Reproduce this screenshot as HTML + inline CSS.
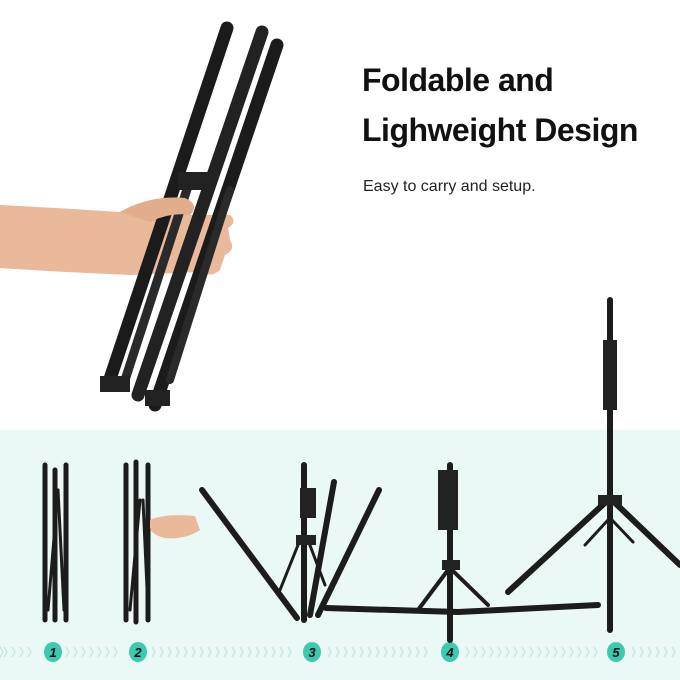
<!DOCTYPE html>
<html><head><style>
html,body{margin:0;padding:0;background:#fff;}
#c{position:relative;width:680px;height:680px;overflow:hidden;font-family:"Liberation Sans",sans-serif;}
.t{position:absolute;left:362px;color:#111;font-weight:bold;font-size:32px;letter-spacing:-0.5px;}
</style></head><body><div id="c">
<svg width="680" height="680" style="position:absolute;left:0;top:0">
<rect x="0" y="430" width="680" height="250" fill="#eaf8f6"/>
<!-- hand top -->
<path d="M0 205 Q60 208 120 212 Q150 195 185 198 Q200 205 190 215 L230 215 Q238 222 228 228 L230 240 Q236 250 225 255 L220 270 Q212 278 200 272 L130 275 Q60 272 0 268 Z" fill="#e9b99a"/>
<!-- tubes top -->
<g stroke-linecap="round">
<line x1="227" y1="28" x2="108" y2="385" stroke="#1b1b1b" stroke-width="13"/>
<line x1="262" y1="32" x2="138" y2="395" stroke="#222" stroke-width="13"/>
<line x1="277" y1="45" x2="155" y2="405" stroke="#1b1b1b" stroke-width="13"/>
<line x1="190" y1="180" x2="125" y2="380" stroke="#2a2a2a" stroke-width="9"/>
<line x1="230" y1="190" x2="170" y2="380" stroke="#2a2a2a" stroke-width="8"/>
</g>
<rect x="178" y="172" width="30" height="18" fill="#222"/>
<rect x="100" y="376" width="30" height="16" fill="#222"/>
<rect x="145" y="390" width="25" height="16" fill="#222"/>
<path d="M120 212 Q150 195 185 198 Q200 205 190 215 Q170 212 150 222 Z" fill="#e2ad8c"/>
<!-- chevrons -->
<g fill="none" stroke="#c7e6e1" stroke-width="1.2">
<path id="ch" d="M0 647 l3 5 l-3 5"/>
</g>
<g fill="none" stroke="#bfe3dd" stroke-width="1.2">
<path d="M4 647l3 5l-3 5M12 647l3 5l-3 5M20 647l3 5l-3 5M28 647l3 5l-3 5M66 647l3 5l-3 5M74 647l3 5l-3 5M82 647l3 5l-3 5M90 647l3 5l-3 5M98 647l3 5l-3 5M106 647l3 5l-3 5M114 647l3 5l-3 5M152 647l3 5l-3 5M160 647l3 5l-3 5M168 647l3 5l-3 5M176 647l3 5l-3 5M184 647l3 5l-3 5M192 647l3 5l-3 5M200 647l3 5l-3 5M208 647l3 5l-3 5M216 647l3 5l-3 5M224 647l3 5l-3 5M232 647l3 5l-3 5M240 647l3 5l-3 5M248 647l3 5l-3 5M256 647l3 5l-3 5M264 647l3 5l-3 5M272 647l3 5l-3 5M280 647l3 5l-3 5M288 647l3 5l-3 5M328 647l3 5l-3 5M336 647l3 5l-3 5M344 647l3 5l-3 5M352 647l3 5l-3 5M360 647l3 5l-3 5M368 647l3 5l-3 5M376 647l3 5l-3 5M384 647l3 5l-3 5M392 647l3 5l-3 5M400 647l3 5l-3 5M408 647l3 5l-3 5M416 647l3 5l-3 5M424 647l3 5l-3 5M466 647l3 5l-3 5M474 647l3 5l-3 5M482 647l3 5l-3 5M490 647l3 5l-3 5M498 647l3 5l-3 5M506 647l3 5l-3 5M514 647l3 5l-3 5M522 647l3 5l-3 5M530 647l3 5l-3 5M538 647l3 5l-3 5M546 647l3 5l-3 5M554 647l3 5l-3 5M562 647l3 5l-3 5M570 647l3 5l-3 5M578 647l3 5l-3 5M586 647l3 5l-3 5M594 647l3 5l-3 5M632 647l3 5l-3 5M640 647l3 5l-3 5M648 647l3 5l-3 5M656 647l3 5l-3 5M664 647l3 5l-3 5M672 647l3 5l-3 5"/>
</g>
<!-- circles -->
<g fill="#3cc9ae">
<ellipse cx="53" cy="652" rx="9" ry="10"/>
<ellipse cx="138" cy="652" rx="9" ry="10"/>
<ellipse cx="312" cy="652" rx="9" ry="10"/>
<ellipse cx="450" cy="652" rx="9" ry="10"/>
<ellipse cx="616" cy="652" rx="9" ry="10"/>
</g>
<g font-family="Liberation Sans" font-weight="bold" font-style="italic" font-size="13" fill="#111" text-anchor="middle">
<text x="53" y="657">1</text><text x="138" y="657">2</text><text x="312" y="657">3</text><text x="450" y="657">4</text><text x="616" y="657">5</text>
</g>
<!-- stand 1 -->
<g stroke="#1c1c1c" stroke-linecap="round">
<line x1="45" y1="465" x2="45" y2="620" stroke-width="5"/>
<line x1="66" y1="465" x2="66" y2="620" stroke-width="5"/>
<line x1="55" y1="470" x2="55" y2="620" stroke-width="5"/>
<line x1="58" y1="490" x2="48" y2="610" stroke-width="3"/>
<line x1="58" y1="490" x2="64" y2="610" stroke-width="3"/>
<!-- stand 2 -->
<line x1="126" y1="465" x2="126" y2="620" stroke-width="5"/>
<line x1="136" y1="462" x2="136" y2="622" stroke-width="5"/>
<line x1="148" y1="465" x2="148" y2="620" stroke-width="5"/>
<line x1="140" y1="500" x2="130" y2="610" stroke-width="3"/>
<line x1="143" y1="500" x2="148" y2="610" stroke-width="3"/>
</g>
<path d="M150 520 Q165 513 195 516 L200 530 Q185 540 165 538 Q152 535 150 528 Z" fill="#e9b99a"/>
<!-- stand 3 -->
<g stroke="#1c1c1c" stroke-linecap="round">
<line x1="304" y1="465" x2="304" y2="620" stroke-width="6"/>
<line x1="202" y1="490" x2="297" y2="618" stroke-width="6"/>
<line x1="334" y1="482" x2="310" y2="615" stroke-width="6"/>
<line x1="379" y1="490" x2="318" y2="615" stroke-width="6"/>
<line x1="300" y1="540" x2="278" y2="595" stroke-width="3"/>
<line x1="308" y1="540" x2="325" y2="585" stroke-width="3"/>
<line x1="326" y1="608" x2="458" y2="612" stroke-width="6"/>
<line x1="458" y1="612" x2="598" y2="605" stroke-width="6"/>
<!-- stand 4 -->
<line x1="450" y1="465" x2="450" y2="640" stroke-width="6"/>
<line x1="448" y1="570" x2="418" y2="610" stroke-width="4"/>
<line x1="452" y1="570" x2="488" y2="605" stroke-width="4"/>
<!-- stand 5 -->
<line x1="610" y1="300" x2="610" y2="630" stroke-width="6"/>
<line x1="608" y1="500" x2="508" y2="592" stroke-width="6"/>
<line x1="612" y1="500" x2="680" y2="565" stroke-width="6"/>
<line x1="608" y1="520" x2="585" y2="545" stroke-width="3"/>
<line x1="612" y1="520" x2="633" y2="542" stroke-width="3"/>
</g>
<g fill="#222">
<rect x="300" y="488" width="16" height="30"/><rect x="438" y="470" width="20" height="60"/>
<rect x="603" y="340" width="14" height="70"/><rect x="296" y="535" width="20" height="10"/>
<rect x="442" y="560" width="18" height="10"/><rect x="598" y="495" width="24" height="10"/>
</g>
</svg>
<div class="t" style="top:62px">Foldable and</div>
<div class="t" style="top:112px">Lighweight Design</div>
<div style="position:absolute;left:363px;top:178px;font-size:16px;color:#222;">Easy to carry and setup.</div>
</div></body></html>
